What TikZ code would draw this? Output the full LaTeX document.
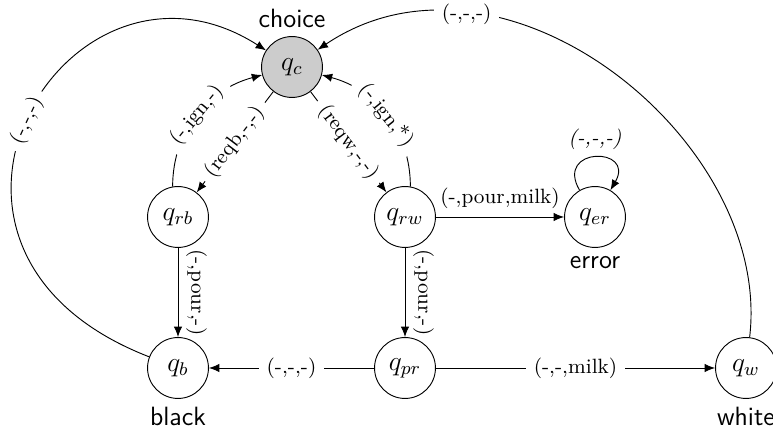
\documentclass[tikz,border=0pt]{standalone}
\usetikzlibrary{arrows.meta}
\begin{document}
\begin{tikzpicture}[x=0.435pt,y=-0.435pt,
  >={Latex[length=4.5pt,width=3.6pt]},
  stnode/.style={circle,draw,minimum size=26.5pt,inner sep=0pt,font=\fontsize{11.5}{14}\selectfont},
  lbl/.style={font=\small,fill=white},
  tag/.style={font=\fontsize{11.5}{14}\selectfont\sffamily}]
\useasboundingbox (0,0) rectangle (773,434);
\node[stnode,fill=black!20,label={[tag]above:choice}] (qc) at (292,67) {$q_c$};
\node[stnode] (qrb) at (178,217) {$q_{rb}$};
\node[stnode] (qrw) at (405,217) {$q_{rw}$};
\node[stnode,label={[tag]below:error}] (qer) at (595,217) {$q_{er}$};
\node[stnode,label={[tag]below:black}] (qb) at (178,368) {$q_b$};
\node[stnode] (qpr) at (405,368) {$q_{pr}$};
\node[stnode,label={[tag]below:white}] (qw) at (746,368) {$q_w$};

\draw[->] (qrb.100) to[out=90,in=195] node[lbl,sloped] {(-,ign,-)} (qc);
\draw[->] (qrw.80) to[out=90,in=-15] node[lbl,sloped] {(-,ign,*)} (qc);
\draw[->] (qc) -- node[lbl,sloped] {(reqb,-,-)} (qrb);
\draw[->] (qc) -- node[lbl,sloped] {(reqw,-,-)} (qrw);
\draw[->] (qrw) -- node[font=\small,above] {(-,pour,milk)} (qer);
\draw[->] (qer.120) .. controls +(120:22pt) and +(60:22pt) .. node[font=\small\itshape,above] {(-,-,-)} (qer.60);
\draw[->] (qrb) -- node[font=\small,midway,rotate=-90,anchor=south] {(-,pour,-)} (qb);
\draw[->] (qrw) -- node[font=\small,midway,rotate=-90,anchor=south] {(-,pour,-)} (qpr);
\draw[->] (qpr) -- node[lbl] {(-,-,-)} (qb);
\draw[->] (qpr) -- node[lbl] {(-,-,milk)} (qw);
\draw[->] (qb) .. controls (-129,249) and (68.5,-76) .. node[lbl,sloped,pos=0.49] {(-,-,-)} (qc);
\draw[->] (qw) .. controls (773,140) and (503,-75) .. node[lbl,pos=0.75] {(-,-,-)} (qc);
\end{tikzpicture}
\end{document}
